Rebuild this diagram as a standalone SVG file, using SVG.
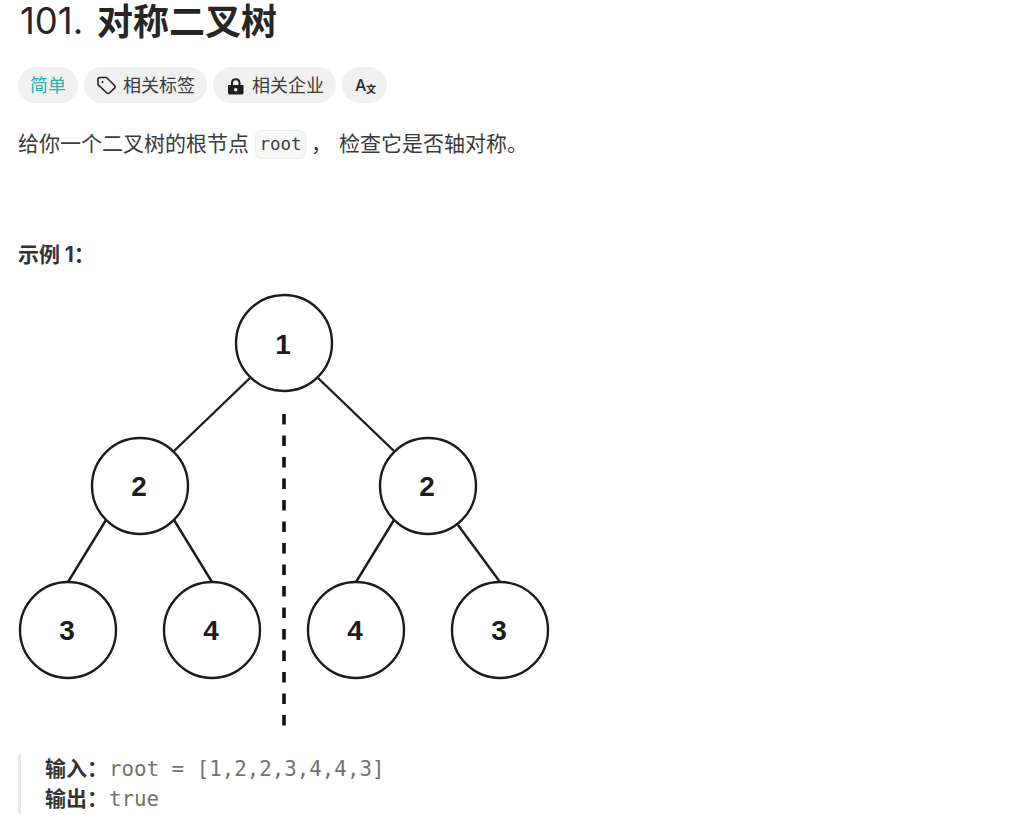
<svg xmlns="http://www.w3.org/2000/svg" width="1028" height="828" viewBox="0 0 1028 828">
<defs>
<style>
text{font-family:"Inter","Noto Sans CJK SC","Noto Sans",sans-serif;fill:#262626}
.cjk{font-family:"Noto Sans CJK SC","Noto Sans",sans-serif}
.pill{fill:#f0f0f0}
.tag{font-size:18px;fill:#3c3c3c}
.body{font-size:21px;fill:#3a3a3a}
.b{font-size:21px;font-weight:700;fill:#333}
.mono{font-family:"DejaVu Sans Mono","Liberation Mono",monospace;font-size:20.800px;fill:#737373}
.node{fill:#fff;stroke:#1c1c1c;stroke-width:2.400}
.edge{stroke:#1c1c1c;stroke-width:2.400;fill:none}
.num{font-family:"Liberation Sans",Arial,sans-serif;font-size:28px;font-weight:700;fill:#1c1c1c;text-anchor:middle}
</style>
</defs>
<rect width="1028" height="828" fill="#fff"/>
<text x="20" y="34" font-size="36.500" font-weight="400">101.</text>
<text class="cjk" x="97" y="35" font-size="36" font-weight="700">对称二叉树</text>

<g id="tag-easy"><rect class="pill" x="18" y="67" width="60" height="36" rx="18"/><text class="tag cjk" x="30" y="92" style="fill:#27b2ae">简单</text></g>
<g id="tag-labels"><rect class="pill" x="84" y="67" width="123" height="36" rx="18"/>
<path d="M98 79.500a2 2 0 0 1 2-2h6.500l8.100 8a1.800 1.800 0 0 1 0 2.600l-5.200 4.900a1.800 1.800 0 0 1-2.600 0l-8.800-8.300z" fill="none" stroke="#262626" stroke-width="1.600" stroke-linejoin="round"/><circle cx="102.500" cy="82" r="1" fill="#262626"/>
<text class="tag cjk" x="123" y="92">相关标签</text></g>
<g id="tag-company"><rect class="pill" x="213" y="67" width="123" height="36" rx="18"/>
<path d="M228 85h15.500v8a1.500 1.500 0 0 1-1.500 1.500h-12.500a1.500 1.500 0 0 1-1.500-1.500zM231 85v-2.700a4.800 4.800 0 0 1 9.500 0v2.700" fill="#1f1f1f"/><path d="M233 85v-2.600a2.800 2.800 0 0 1 5.500 0v2.600z" fill="#f0f0f0"/><circle cx="235.700" cy="89.700" r="1.800" fill="#f0f0f0"/>
<text class="tag cjk" x="252" y="92">相关企业</text></g>
<g id="tag-translate"><rect class="pill" x="342" y="67" width="45" height="36" rx="18"/><text x="355" y="91" font-size="16" font-weight="500">A</text><text class="cjk" x="366" y="93" font-size="10" font-weight="700">文</text></g>

<text class="body cjk" x="18" y="151">给你一个二叉树的根节点</text>
<g id="code-root"><rect x="255.500" y="130.500" width="50" height="28" rx="6" fill="#f7f7f7" stroke="#ececec"/><text x="259.500" y="150" style="font-family:'DejaVu Sans Mono',monospace;font-size:17.500px;fill:#404040">root</text></g>
<text class="body cjk" x="311" y="151">，</text>
<text class="body cjk" x="339" y="151">检查它是否轴对称。</text>
<text class="b cjk" x="18" y="262">示例 <tspan style="font-family:Inter,sans-serif">1</tspan>：</text>

<g id="connectors">
<line class="edge" x1="250" y1="378" x2="174" y2="451"/>
<line class="edge" x1="318" y1="378" x2="394" y2="451"/>
<line class="edge" x1="106" y1="520" x2="68" y2="582"/>
<line class="edge" x1="174" y1="520" x2="212" y2="582"/>
<line class="edge" x1="394" y1="520" x2="356" y2="582"/>
<line class="edge" x1="458" y1="525" x2="500" y2="582"/>
<line x1="284" y1="414" x2="284" y2="727" stroke="#111" stroke-width="3.600" stroke-dasharray="10.500 11"/>
</g>
<g id="n1"><circle class="node" cx="284" cy="343" r="48"/><text class="num" x="283" y="353.500">1</text></g>
<g id="n2l"><circle class="node" cx="140" cy="486" r="48"/><text class="num" x="139" y="496">2</text></g>
<g id="n2r"><circle class="node" cx="428" cy="486" r="48"/><text class="num" x="427" y="496">2</text></g>
<g id="n3l"><circle class="node" cx="68" cy="630" r="48"/><text class="num" x="67" y="639.500">3</text></g>
<g id="n4l"><circle class="node" cx="212" cy="630" r="48"/><text class="num" x="211" y="639.500">4</text></g>
<g id="n4r"><circle class="node" cx="356" cy="630" r="48"/><text class="num" x="355" y="639.500">4</text></g>
<g id="n3r"><circle class="node" cx="500" cy="630" r="48"/><text class="num" x="499" y="639.500">3</text></g>

<rect x="18" y="754" width="3" height="60" fill="#e8e8e8"/>
<text class="b cjk" x="45" y="776">输入：</text><text class="mono" x="109" y="776">root = [1,2,2,3,4,4,3]</text>
<text class="b cjk" x="45" y="806">输出：</text><text class="mono" x="109" y="806">true</text>
</svg>
